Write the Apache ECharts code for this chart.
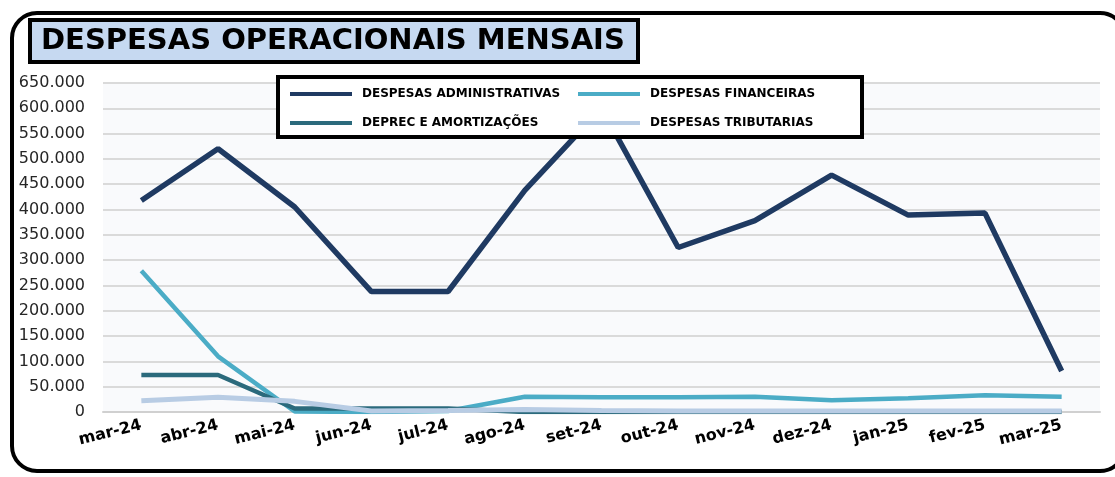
<!DOCTYPE html>
<html>
<head>
<meta charset="utf-8">
<script src="https://cdn.jsdelivr.net/npm/echarts@6/dist/echarts.min.js"></script>
<style>
  html, body { margin: 0; padding: 0; background: #fff; }
  #echart1 { width: 1115px; height: 477px; }
</style>
</head>
<body>
<div id="echart1"></div>
<script>
  'use strict'
  /*-----data-----*/
  var months = ['mar-24', 'abr-24', 'mai-24', 'jun-24', 'jul-24', 'ago-24', 'set-24',
    'out-24', 'nov-24', 'dez-24', 'jan-25', 'fev-25', 'mar-25'];

  var administrativas = [418000, 520000, 405000, 238000, 238000, 438000, 600000, 325000, 378000, 468000, 389000, 393000, 81000];
  var financeiras = [279000, 110000, 1000, 0, 2000, 30000, 29000, 29000, 30000, 23000, 27000, 33000, 30000];
  var deprec = [73000, 73000, 7000, 7000, 7000, 0, 0, 0, 0, 0, 0, 0, 0];
  var tributarias = [22000, 29000, 21000, 2000, 3000, 5000, 3000, 2000, 2000, 2000, 2000, 2000, 2000];

  var font = '"DejaVu Sans", Verdana, sans-serif';

  /*-----series-----*/
  var chartdata = [
    {
      name: 'DESPESAS ADMINISTRATIVAS',
      type: 'line',
      symbol: 'none',
      data: administrativas,
      lineStyle: { width: 5.5, color: '#1f3a62' },
      color: '#1f3a62'
    },
    {
      name: 'DESPESAS FINANCEIRAS',
      type: 'line',
      symbol: 'none',
      data: financeiras,
      lineStyle: { width: 4.5, color: '#4bacc6' },
      color: '#4bacc6'
    },
    {
      name: 'DEPREC E AMORTIZAÇÕES',
      type: 'line',
      symbol: 'none',
      data: deprec,
      lineStyle: { width: 4.5, color: '#2b6a7c' },
      color: '#2b6a7c'
    },
    {
      name: 'DESPESAS TRIBUTARIAS',
      type: 'line',
      symbol: 'none',
      data: tributarias,
      lineStyle: { width: 5, color: '#b8cce4' },
      color: '#b8cce4'
    }
  ];

  var chart = document.getElementById('echart1');
  var lineChart = echarts.init(chart);

  var option = {
    animation: false,
    backgroundColor: '#fff',
    title: {
      text: 'DESPESAS OPERACIONAIS MENSAIS',
      left: 30,
      top: 20,
      padding: [4, 13, 4, 11],
      backgroundColor: '#c6d9f1',
      borderColor: '#000',
      borderWidth: 4,
      textStyle: {
        fontFamily: font,
        fontSize: 29,
        fontWeight: 'bold',
        lineHeight: 34,
        color: '#000'
      }
    },
    legend: {
      left: 278,
      top: 77,
      width: 600,
      orient: 'horizontal',
      padding: [8, 7, 5, 12],
      itemGap: 11,
      itemWidth: 62,
      itemHeight: 4,
      icon: 'rect',
      backgroundColor: '#fff',
      borderColor: '#000',
      borderWidth: 4,
      textStyle: {
        fontFamily: font,
        fontSize: 12,
        fontWeight: 'bold',
        color: '#000',
        width: 205,
        lineHeight: 18,
        padding: [0, 0, 0, 5]
      },
      data: chartdata.map(function (s) { return s.name; })
    },
    grid: {
      top: 83,
      right: 15,
      bottom: 65,
      left: 103,
      show: true,
      backgroundColor: '#f9fafc',
      borderWidth: 0
    },
    xAxis: {
      type: 'category',
      data: months,
      axisLine: {
        lineStyle: {
          color: '#d0d0d0',
          width: 2
        }
      },
      axisTick: {
        length: 5,
        lineStyle: { color: '#d0d0d0', width: 2 }
      },
      axisLabel: {
        interval: 0,
        rotate: 14,
        margin: 13,
        fontFamily: font,
        fontSize: 16,
        fontWeight: 'bold',
        color: '#000'
      }
    },
    yAxis: {
      type: 'value',
      min: 0,
      max: 650000,
      interval: 50000,
      splitLine: {
        lineStyle: {
          color: '#dadada',
          width: 2
        }
      },
      axisLine: { show: false },
      axisTick: { show: false },
      axisLabel: {
        margin: 18,
        fontFamily: font,
        fontSize: 16,
        color: '#262626',
        formatter: function (v) {
          return v === 0 ? '0' : v.toString().replace(/\B(?=(\d{3})+(?!\d))/g, '.');
        }
      }
    },
    graphic: [
      {
        type: 'rect',
        z: 100,
        silent: true,
        shape: { x: 12, y: 13, width: 1113, height: 458, r: 25 },
        style: { fill: 'none', stroke: '#000', lineWidth: 4 }
      }
    ],
    series: chartdata
  };

  lineChart.setOption(option);
</script>
</body>
</html>
